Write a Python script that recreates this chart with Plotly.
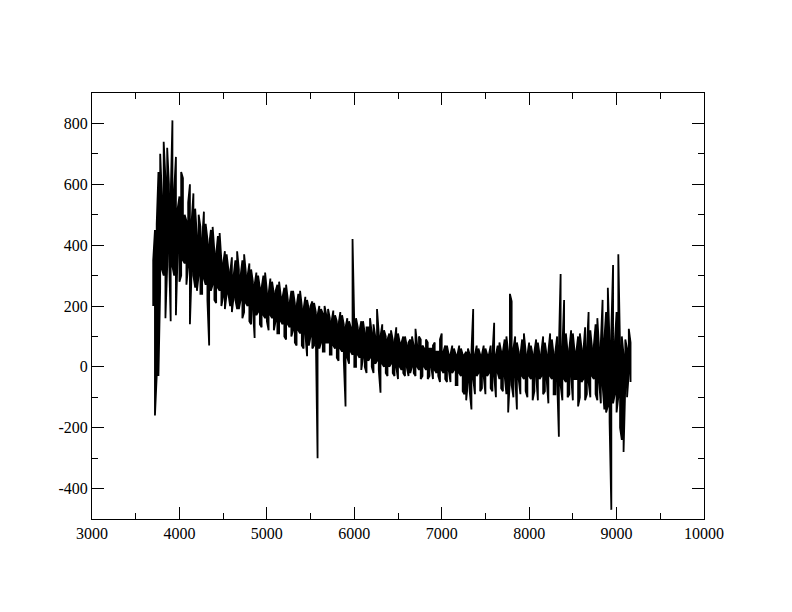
import plotly.graph_objects as go

# Spectrum: upper and lower flux per 20 Angstrom bin, starting at 3700
wave_start = 3700
wave_step = 20
flux_hi = [
    350, 450, 470, 640, 700, 560, 740, 620, 720, 600,
    560, 810, 580, 690, 520, 560, 640, 620, 500, 480,
    540, 600, 480, 570, 520, 430, 500, 460, 420, 510,
    470, 420, 400, 450, 460, 380, 370, 430, 440, 350,
    340, 380, 370, 320, 310, 360, 300, 350, 380, 320,
    300, 350, 370, 310, 300, 340, 320, 280, 270, 310,
    300, 260, 260, 300, 310, 250, 240, 290, 280, 240,
    250, 270, 280, 230, 230, 260, 270, 220, 210, 250,
    250, 210, 200, 240, 250, 200, 190, 230, 220, 190,
    200, 215, 210, 180, 170, 200, 190, 175, 200, 170,
    190, 160, 150, 185, 170, 150, 140, 180, 170, 140,
    130, 160, 150, 130, 420, 140, 160, 130, 120, 150,
    150, 110, 130, 130, 160, 110, 140, 100, 190, 110,
    100, 140, 120, 100, 90, 110, 120, 90, 80, 130,
    110, 80, 80, 100, 100, 70, 80, 90, 100, 70,
    125, 70, 100, 90, 70, 60, 90, 80, 60, 60,
    70, 80, 50, 50, 90, 110, 50, 70, 70, 40,
    40, 70, 60, 40, 40, 70, 60, 40, 40, 50,
    60, 40, 50, 190, 40, 70, 60, 40, 40, 70,
    60, 40, 40, 70, 40, 145, 40, 70, 80, 50,
    50, 90, 100, 50, 240, 215, 60, 100, 80, 50,
    40, 90, 110, 50, 40, 80, 70, 40, 50, 90,
    80, 40, 50, 100, 80, 40, 50, 110, 90, 40,
    50, 100, 60, 305, 60, 220, 110, 50, 60, 120,
    110, 50, 50, 100, 110, 60, 50, 130, 60, 180,
    120, 60, 70, 140, 160, 60, 80, 220, 90, 180,
    260, 80, 120, 335, 80, 180, 370, 60, 100, 40,
    90, 60, 125, 80,
]
flux_lo = [
    200, -160, -30, -30, 260, 320, 300, 160, 330, 380,
    150, 330, 300, 170, 380, 280, 300, 350, 340, 270,
    330, 140, 320, 300, 260, 250, 300, 240, 240, 290,
    270, 220, 70, 250, 270, 220, 210, 260, 250, 200,
    230, 190, 240, 240, 200, 180, 230, 220, 190, 190,
    220, 160, 180, 210, 200, 150, 140, 190, 95, 170,
    180, 140, 130, 170, 160, 150, 120, 170, 160, 120,
    150, 110, 110, 150, 140, 100, 90, 140, 130, 100,
    120, 80, 70, 120, 110, 70, 60, 110, 35, 70,
    100, 60, 70, 100, -300, 60, 80, 50, 50, 80,
    80, 40, 40, 70, 60, 30, 20, 60, 50, 20,
    -130, 30, 10, 50, 40, 0, 0, 40, 30, -10,
    30, 0, -20, 20, 30, 0, -20, 10, 20, -10,
    -85, 10, 0, -20, -30, 0, 10, -20, -30, 0,
    -40, 0, -10, -20, -30, 0, -30, -20, 0, -20,
    -30, 0, -10, -40, -30, 0, -10, -40, -30, 0,
    -40, -10, -20, -30, -50, -10, -20, -40, -50, -10,
    -50, -20, -10, -60, -60, -20, -30, -80, -90, -110,
    -50, -80, -140, -40, -90, -30, -20, -80, -70, -30,
    -90, -30, -20, -70, -80, -30, -100, -20, -40, -70,
    -80, -30, -90, -150, -40, -60, -100, -30, -140, -40,
    -90, -30, -40, -80, -100, -30, -40, -110, -80, -30,
    -110, -40, -30, -90, -80, -40, -120, -30, -40, -90,
    -90, -40, -230, -60, -110, -40, -50, -100, -90, -30,
    -110, -40, -40, -130, -100, -50, -40, -110, -90, -50,
    -100, -30, -40, -90, -110, -50, -120, -60, -140, -150,
    -130, -180, -470, -120, -90, -150, -100, -200, -240, -280,
    -60, -100, -20, -50,
]
x_tickvals = [3000, 4000, 5000, 6000, 7000, 8000, 9000, 10000]
y_tickvals = [-400, -200, 0, 200, 400, 600, 800]
y_ticktext = ["-400", "-200", "0", "200", "400", "600", "800"]
x_range = [3000, 10000]
y_range = [-500, 900]

# trace each wavelength bin as a vertical stroke, alternating direction
xs, ys = [], []
for i, (hi, lo) in enumerate(zip(flux_hi, flux_lo)):
    w = wave_start + wave_step * i
    pair = (lo, hi) if i % 2 == 0 else (hi, lo)
    xs += [w, w]
    ys += list(pair)

fig = go.Figure(go.Scatter(x=xs, y=ys, mode="lines",
                           line=dict(color="black", width=1.8)))

font = dict(family="Times New Roman, Liberation Serif, serif", size=16, color="black")
axis_common = dict(showgrid=False, zeroline=False, showline=True, linecolor="black",
                   linewidth=1, mirror="allticks", ticks="inside", ticklen=12,
                   tickcolor="black", tickwidth=1, tickfont=font)

fig.update_xaxes(range=x_range, tickvals=x_tickvals,
                 ticktext=[str(v) for v in x_tickvals],
                 minor=dict(dtick=500, tick0=3000, ticks="inside", ticklen=6, tickcolor="black"),
                 **axis_common)
fig.update_yaxes(range=y_range, tickvals=y_tickvals, ticktext=y_ticktext,
                 minor=dict(dtick=100, tick0=0, ticks="inside", ticklen=6, tickcolor="black"),
                 **axis_common)

fig.update_layout(width=792, height=612, paper_bgcolor="white", plot_bgcolor="white",
                  font=font, margin=dict(l=84, r=96, t=85, b=101), showlegend=False)

fig.write_html("out.html")
